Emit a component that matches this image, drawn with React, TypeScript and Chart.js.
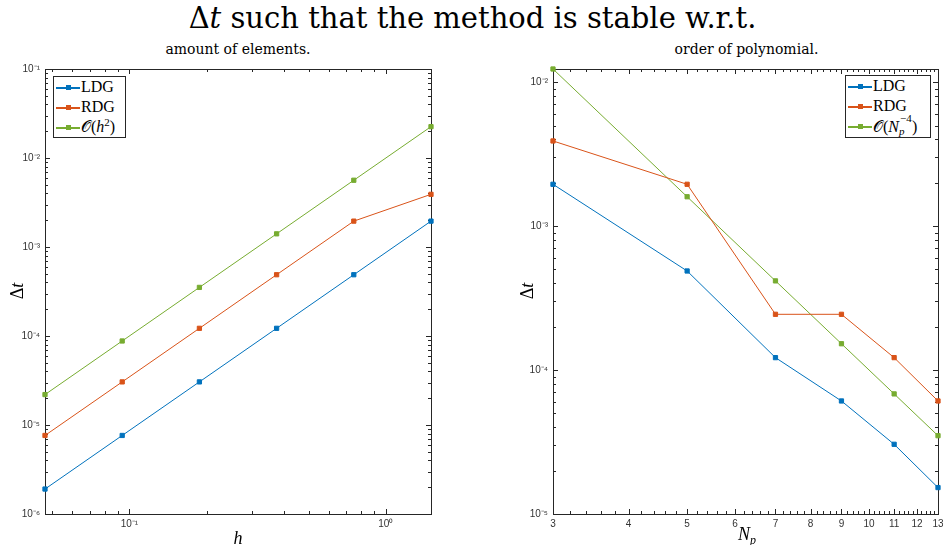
import React, { useEffect, useRef } from "react";
import { Chart, registerables } from "chart.js";

Chart.register(...registerables);

// ---------- data: left panel (element size h) ----------
const hValues = [0.046875, 0.09375, 0.1875, 0.375, 0.75, 1.5];
const ldgByH = [1.907e-6, 7.63e-6, 3.05e-5, 1.22e-4, 4.88e-4, 1.953e-3];
const rdgByH = [7.63e-6, 3.05e-5, 1.22e-4, 4.88e-4, 1.953e-3, 3.906e-3];
const orderByH = [2.197e-5, 8.79e-5, 3.516e-4, 1.406e-3, 5.625e-3, 2.25e-2];

// ---------- data: right panel (polynomial order Np) ----------
const npValues = [3, 5, 7, 9, 11, 13];
const ldgByNp = [1.953e-3, 4.88e-4, 1.22e-4, 6.1e-5, 3.05e-5, 1.526e-5];
const rdgByNp = [3.906e-3, 1.953e-3, 2.44e-4, 2.44e-4, 1.22e-4, 6.1e-5];
const orderByNp = [1.235e-2, 1.6e-3, 4.165e-4, 1.524e-4, 6.83e-5, 3.5e-5];

// ---------- tick labels ----------
const hTickValues = [0.1, 1];
const hTickLabels = ["10⁻¹", "10⁰"];
const leftYTickValues = [1e-6, 1e-5, 1e-4, 1e-3, 1e-2, 1e-1];
const leftYTickLabels = ["10⁻⁶", "10⁻⁵", "10⁻⁴", "10⁻³", "10⁻²", "10⁻¹"];
const npTickValues = [3, 4, 5, 6, 7, 8, 9, 10, 11, 12, 13];
const npTickLabels = ["3", "4", "5", "6", "7", "8", "9", "10", "11", "12", "13"];
const rightYTickValues = [1e-5, 1e-4, 1e-3, 1e-2];
const rightYTickLabels = ["10⁻⁵", "10⁻⁴", "10⁻³", "10⁻²"];

const COLORS = { ldg: "#0072BD", rdg: "#D95319", order: "#77AC30" };
const AXIS_COLOR = "#262626";
const SERIF = "'Liberation Serif', 'Times New Roman', serif";
const WIDE_SERIF = "'DejaVu Serif', 'Liberation Serif', serif";
const SANS = "'Liberation Sans', Arial, sans-serif";

type TickMark = { value: number; major: boolean };

function logMinorTicks(lo: number, hi: number): number[] {
  const out: number[] = [];
  for (let e = Math.floor(Math.log10(lo)); e <= Math.ceil(Math.log10(hi)); e++) {
    for (let k = 2; k <= 9; k++) {
      const v = k * Math.pow(10, e);
      if (v >= lo * 0.9999 && v <= hi * 1.0001) out.push(v);
    }
  }
  return out;
}

const boxTicksPlugin = {
  id: "boxTicks",
  beforeDatasetsDraw(chart: any, _args: any, opts: any) {
    const { ctx, chartArea: a, scales } = chart;
    const xs = scales.x;
    const ys = scales.y;
    ctx.save();
    ctx.strokeStyle = AXIS_COLOR;
    ctx.lineWidth = 1;
    ctx.beginPath();
    (opts.xMarks as TickMark[]).forEach((t) => {
      const len = t.major ? 5 : 3;
      const px = Math.round(xs.getPixelForValue(t.value)) + 0.5;
      ctx.moveTo(px, a.bottom);
      ctx.lineTo(px, a.bottom - len);
      ctx.moveTo(px, a.top);
      ctx.lineTo(px, a.top + len);
    });
    (opts.yMarks as TickMark[]).forEach((t) => {
      const len = t.major ? 5 : 3;
      const py = Math.round(ys.getPixelForValue(t.value)) + 0.5;
      ctx.moveTo(a.left, py);
      ctx.lineTo(a.left + len, py);
      ctx.moveTo(a.right, py);
      ctx.lineTo(a.right - len, py);
    });
    ctx.stroke();
    ctx.strokeRect(
      Math.round(a.left) + 0.5,
      Math.round(a.top) + 0.5,
      Math.round(a.right) - Math.round(a.left),
      Math.round(a.bottom) - Math.round(a.top)
    );
    ctx.restore();
  },
};

function series(label: string, xs: number[], ys: number[], color: string) {
  return {
    label,
    data: xs.map((x, i) => ({ x, y: ys[i] })),
    borderColor: color,
    backgroundColor: color,
    borderWidth: 1,
    pointStyle: "rect",
    pointRadius: 3,
    pointBorderWidth: 1,
    pointBackgroundColor: color,
    pointBorderColor: color,
    clip: false,
    tension: 0,
  };
}

function logAxis(
  min: number,
  max: number,
  values: number[],
  labels: string[],
  size: { width?: number; height?: number },
  padding: number
) {
  return {
    type: "logarithmic",
    min,
    max,
    bounds: "data",
    grid: { display: false, drawTicks: false, tickLength: 0 },
    border: { display: false },
    ticks: {
      autoSkip: false,
      maxRotation: 0,
      minRotation: 0,
      padding,
      color: "#333",
      font: { family: SANS, size: 10 },
      callback: (_v: any, i: number) => labels[i],
    },
    afterBuildTicks: (s: any) => {
      s.ticks = values.map((v) => ({ value: v }));
    },
    afterFit: (s: any) => {
      if (size.width !== undefined) s.width = size.width;
      if (size.height !== undefined) s.height = size.height;
      s.paddingLeft = 0;
      s.paddingRight = 0;
      s.paddingTop = 0;
      s.paddingBottom = 0;
    },
  };
}

function ChartCanvas({ config, left, top, width, height }: any) {
  const ref = useRef<HTMLCanvasElement | null>(null);
  useEffect(() => {
    if (!ref.current) return;
    const chart = new Chart(ref.current, config);
    return () => chart.destroy();
  }, []);
  return (
    <canvas
      ref={ref}
      width={width}
      height={height}
      style={{ position: "absolute", left, top, width, height }}
    />
  );
}

const leftMarks = {
  x: [
    ...hTickValues.map((v) => ({ value: v, major: true })),
    ...logMinorTicks(hValues[0], hValues[hValues.length - 1]).map((v) => ({ value: v, major: false })),
  ],
  y: [
    ...leftYTickValues.map((v) => ({ value: v, major: true })),
    ...logMinorTicks(1e-6, 1e-1).map((v) => ({ value: v, major: false })),
  ],
};

const rightXMinor: number[] = [];
for (let i = 16; i <= 64; i++) if (i % 5 !== 0) rightXMinor.push(i / 5);

const rightMarks = {
  x: [
    ...npTickValues.map((v) => ({ value: v, major: true })),
    ...rightXMinor.map((v) => ({ value: v, major: false })),
  ],
  y: [
    ...rightYTickValues.map((v) => ({ value: v, major: true })),
    ...logMinorTicks(1e-5, 1.235e-2).map((v) => ({ value: v, major: false })),
  ],
};

function makeConfig(
  xs: number[],
  ys: number[][],
  xAxis: any,
  yAxis: any,
  padding: any,
  marks: { x: TickMark[]; y: TickMark[] }
) {
  return {
    type: "line",
    data: {
      datasets: [
        series("LDG", xs, ys[0], COLORS.ldg),
        series("RDG", xs, ys[1], COLORS.rdg),
        series("O", xs, ys[2], COLORS.order),
      ],
    },
    options: {
      responsive: false,
      animation: false,
      devicePixelRatio: 1,
      layout: { padding },
      scales: { x: xAxis, y: yAxis },
      plugins: {
        legend: { display: false },
        title: { display: false },
        tooltip: { enabled: false },
        boxTicks: { xMarks: marks.x, yMarks: marks.y },
      },
    },
    plugins: [boxTicksPlugin],
  };
}

const leftConfig = makeConfig(
  hValues,
  [ldgByH, rdgByH, orderByH],
  logAxis(hValues[0], hValues[hValues.length - 1], hTickValues, hTickLabels, { height: 31 }, 4),
  logAxis(1e-6, 1e-1, leftYTickValues, leftYTickLabels, { width: 45 }, 5),
  { left: 0, right: 39, top: 29, bottom: 0 },
  leftMarks
);

const rightConfig = makeConfig(
  npValues,
  [ldgByNp, rdgByNp, orderByNp],
  logAxis(3, 13, npTickValues, npTickLabels, { height: 31 }, 4),
  logAxis(1e-5, 1.235e-2, rightYTickValues, rightYTickLabels, { width: 83 }, 5),
  { left: 0, right: 3, top: 29, bottom: 0 },
  rightMarks
);

function Sample({ color }: { color: string }) {
  return (
    <span
      style={{
        position: "absolute",
        left: 2,
        width: 24,
        top: 10,
        height: 1.5,
        background: color,
      }}
    >
      <span
        style={{
          position: "absolute",
          left: 10,
          top: -2,
          width: 5,
          height: 5,
          background: color,
        }}
      />
    </span>
  );
}

function Legend({ left, top, width, height, entries }: any) {
  return (
    <div
      style={{
        position: "absolute",
        left,
        top,
        width,
        height,
        boxSizing: "border-box",
        border: `1px solid ${AXIS_COLOR}`,
        background: "#fff",
        fontFamily: SERIF,
        fontSize: 16,
        color: "#000",
      }}
    >
      {entries.map((e: any, i: number) => (
        <div
          key={i}
          style={{
            position: "absolute",
            left: 0,
            top: i * 20,
            height: 20,
            lineHeight: "20px",
            paddingLeft: 27,
            whiteSpace: "nowrap",
          }}
        >
          <Sample color={e.color} />
          {e.label}
        </div>
      ))}
    </div>
  );
}

const supStyle: React.CSSProperties = { fontSize: 11, verticalAlign: "top", lineHeight: "12px", position: "relative", top: -1 };

export default function App() {
  useEffect(() => {
    document.body.style.margin = "0";
  }, []);
  const leftEntries = [
    { label: "LDG", color: COLORS.ldg },
    { label: "RDG", color: COLORS.rdg },
    {
      label: (
        <span>
          𝒪(<i>h</i>
          <span style={supStyle}>2</span>)
        </span>
      ),
      color: COLORS.order,
    },
  ];
  const rightEntries = [
    { label: "LDG", color: COLORS.ldg },
    { label: "RDG", color: COLORS.rdg },
    {
      label: (
        <span>
          𝒪(<i>N</i>
          <span style={{ position: "relative", display: "inline-block", width: 13, height: 16 }}>
            <span style={{ position: "absolute", left: 1, top: -4, fontSize: 11, lineHeight: "12px" }}>−4</span>
            <span style={{ position: "absolute", left: 0, top: 9, fontSize: 11, lineHeight: "12px", fontStyle: "italic" }}>p</span>
          </span>
          )
        </span>
      ),
      color: COLORS.order,
    },
  ];
  return (
    <div
      style={{
        position: "fixed",
        left: 0,
        top: 0,
        width: 943,
        height: 545,
        overflow: "hidden",
        background: "#fff",
        fontFamily: SERIF,
      }}
    >
      <div
        style={{
          position: "absolute",
          left: 0,
          top: 4,
          width: 945,
          textAlign: "center",
          fontFamily: WIDE_SERIF,
          fontSize: 29,
          lineHeight: "29px",
          whiteSpace: "nowrap",
        }}
      >
        Δ<i>t</i> such that the method is stable w.r.t.
      </div>
      <div style={{ position: "absolute", left: 45, width: 386, top: 42, textAlign: "center", fontFamily: WIDE_SERIF, fontSize: 14, lineHeight: "14px" }}>
        amount of elements.
      </div>
      <div style={{ position: "absolute", left: 553, width: 387, top: 42, textAlign: "center", fontFamily: WIDE_SERIF, fontSize: 14, lineHeight: "14px" }}>
        order of polynomial.
      </div>

      <ChartCanvas config={leftConfig} left={0} top={40} width={470} height={505} />
      <ChartCanvas config={rightConfig} left={470} top={40} width={473} height={505} />

      <Legend left={53} top={76} width={73} height={62} entries={leftEntries} />
      <Legend left={845} top={75} width={86} height={63} entries={rightEntries} />

      <div
        style={{
          position: "absolute",
          left: 17,
          top: 291,
          transform: "translate(-50%, -50%) rotate(-90deg)",
          fontSize: 18,
          lineHeight: "18px",
          whiteSpace: "nowrap",
        }}
      >
        Δ<i>t</i>
      </div>
      <div
        style={{
          position: "absolute",
          left: 527,
          top: 291,
          transform: "translate(-50%, -50%) rotate(-90deg)",
          fontSize: 18,
          lineHeight: "18px",
          whiteSpace: "nowrap",
        }}
      >
        Δ<i>t</i>
      </div>
      <div style={{ position: "absolute", left: 188, width: 100, top: 529, textAlign: "center", fontSize: 18, lineHeight: "18px" }}>
        <i>h</i>
      </div>
      <div style={{ position: "absolute", left: 697, width: 100, top: 525, textAlign: "center", fontSize: 18, lineHeight: "18px" }}>
        <i>N</i>
        <i style={{ fontSize: 12, position: "relative", top: 4 }}>p</i>
      </div>
    </div>
  );
}
